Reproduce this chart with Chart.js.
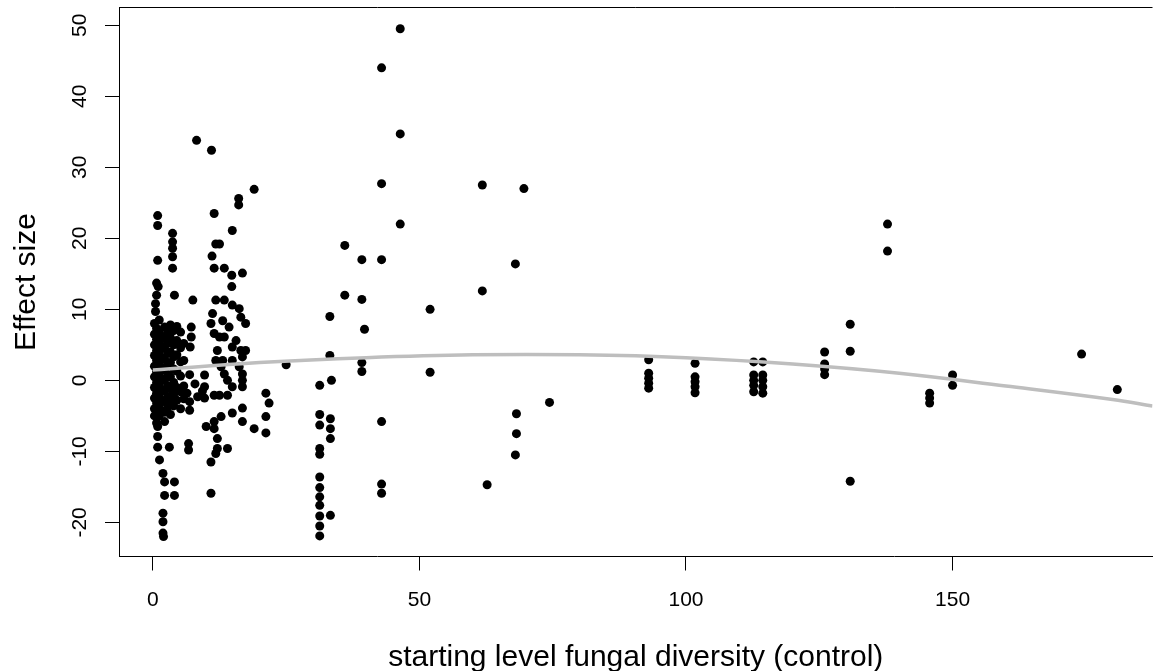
<!DOCTYPE html>
<html>
<head>
<meta charset="utf-8">
<title>Effect size vs starting level fungal diversity</title>
<script src="https://cdn.jsdelivr.net/npm/chart.js@4.4.1/dist/chart.umd.min.js"></script>
<style>
  html, body { margin: 0; padding: 0; background: #ffffff; overflow: hidden; }
  #wrap { width: 1157px; height: 671px; }
</style>
</head>
<body>
<div id="wrap"><canvas id="plot" width="1157" height="671"></canvas></div>
<script>
// --- data ---
// starting level fungal diversity (control)
const diversity = [
  0.9, 0.9, 0.9, 0.7, 1.0, 0.7, 0.5, 0.5,
  0.3, 0.3, 0.3, 0.3, 0.3, 0.3, 0.3, 0.3, 0.3, 0.3,
  0.7, 0.7, 0.7, 0.7, 0.7, 0.7, 0.7, 0.7, 0.7, 0.7,
  1.2, 1.2, 1.2, 1.2, 1.2, 1.2, 1.2, 1.2, 1.2, 1.2,
  1.7, 1.7, 1.7, 1.7, 1.7, 1.7, 1.7, 1.7,
  2.2, 2.2, 2.2, 2.2, 2.2, 2.2, 2.2, 2.2, 2.2, 2.2,
  2.8, 2.8, 2.8, 2.8, 2.8, 2.8, 2.8, 2.8,
  3.3, 3.3, 3.3, 3.3, 3.3, 3.3, 3.3, 3.3,
  3.9, 3.9, 3.9, 3.9, 3.9, 3.9, 3.9,
  4.5, 4.5, 4.5, 4.5, 4.5, 4.5,
  5.2, 5.2, 5.2, 5.2, 5.2, 5.2,
  5.8, 5.8, 5.8, 5.8,
  3.7, 3.7, 3.7, 3.7, 3.7, 4.05,
  0.9, 0.9, 0.9, 3.1, 1.25, 1.9, 2.2, 4.05, 2.2, 4.05, 1.9, 1.9, 1.9, 2.0,
  7.5, 7.2, 7.2, 7.0, 6.9, 6.7, 6.7,
  6.9, 7.9, 6.4, 8.4, 6.9, 9.3, 8.2,
  11.0, 19.0, 16.1, 16.1, 11.5, 14.9, 11.8, 12.5, 11.1, 11.5, 13.4, 14.8, 16.8, 14.8,
  11.8, 13.4, 14.9, 16.2, 11.2, 10.9, 13.1, 16.5, 17.4, 14.3, 11.5, 13.4, 12.5, 15.6,
  14.9, 16.5, 17.4, 12.1, 11.8, 13.1, 12.8, 14.9, 16.8, 16.2, 13.4, 16.8, 14.0, 16.8,
  14.9, 12.5, 14.0, 11.5, 16.8,
  9.7, 9.7, 9.7, 21.2, 21.8, 14.9, 16.8, 16.8, 19.0, 21.2, 21.2,
  10.0, 11.5, 12.8, 11.5, 12.1, 12.1, 14.0, 11.8, 10.9, 10.9,
  25.0,
  46.4, 42.9, 46.4, 42.9, 46.4, 36.0, 39.2, 42.9, 36.0, 39.2, 52.0, 33.2, 39.7,
  33.2, 39.2, 39.2, 52.0, 31.3, 33.5,
  31.3, 31.3, 31.3, 31.3, 31.3, 31.3, 31.3, 31.3, 31.3, 31.3, 31.3,
  33.3, 33.3, 33.3, 33.3,
  42.9, 42.9, 42.9,
  61.8, 69.6, 68.0, 61.8, 74.4, 68.2, 68.2, 68.0, 62.7,
  93, 93, 93, 93, 93,
  101.7, 101.7, 101.7, 101.7, 101.7,
  112.7, 112.7, 112.7, 112.7, 112.7,
  114.4, 114.4, 114.4, 114.4, 114.4,
  126, 126, 126, 126,
  130.8, 130.8, 130.8,
  137.8, 137.8,
  145.7, 145.7, 145.7,
  150, 150,
  174.2, 180.9
];

// Effect size
const effect = [
  23.2, 21.8, 16.9, 13.7, 13.2, 12.0, 10.8, 9.7,
  8.0, 6.5, 5.0, 3.5, 2.0, 0.5, -1.0, -2.5, -4.0, -5.0,
  7.3, 5.8, 4.2, 2.8, 1.2, -0.3, -1.8, -3.2, -4.6, -6.0,
  8.5, 7.0, 5.5, 4.0, 2.5, 1.0, -0.5, -2.0, -3.5, -5.0,
  6.2, 4.8, 3.2, 1.8, 0.2, -1.3, -2.8, -4.3,
  7.5, 6.0, 4.5, 3.0, 1.5, 0.0, -1.5, -3.0, -4.5, -5.8,
  6.8, 5.2, 3.8, 2.2, 0.8, -0.8, -2.3, -3.8,
  7.8, 6.0, 4.0, 2.5, 0.5, -1.2, -3.0, -4.8,
  7.0, 5.0, 3.3, 1.6, -0.3, -2.0, -3.6,
  7.6, 5.6, 3.6, 1.3, -1.0, -2.8,
  6.8, 4.6, 2.6, 0.6, -1.6, -4.0,
  5.2, 2.8, -0.8, -2.6,
  20.7, 19.5, 18.6, 17.4, 15.8, 12.0,
  -6.5, -7.9, -9.4, -9.4, -11.2, -13.1, -14.3, -14.3, -16.2, -16.2, -18.7, -19.9, -21.5, -22.0,
  11.3, 7.5, 6.1, 4.7, -4.2, -8.9, -9.8,
  0.8, -0.5, -1.8, -2.3, -3.0, -1.5, 33.8,
  32.4, 26.9, 25.6, 24.7, 23.5, 21.1, 19.2, 19.2, 17.5, 15.8, 15.8, 14.8, 15.1, 13.2,
  11.3, 11.3, 10.6, 10.1, 9.4, 8.0, 8.4, 8.9, 8.0, 7.5, 6.6, 6.1, 6.1, 5.6,
  4.7, 4.2, 4.2, 4.2, 2.8, 2.8, 1.9, 2.8, 3.3, 1.9, 0.9, 0.9, 0.0, 0.0,
  -0.9, -2.1, -2.1, -2.1, -0.9,
  0.75, -0.9, -2.5, -1.8, -3.2, -4.6, -3.9, -5.8, -6.8, -5.1, -7.4,
  -6.5, -5.8, -5.1, -6.8, -8.2, -9.6, -9.6, -10.3, -11.5, -15.9,
  2.2,
  49.5, 44.0, 34.7, 27.7, 22.0, 19.0, 17.0, 17.0, 12.0, 11.4, 10.0, 9.0, 7.2,
  3.5, 2.5, 1.25, 1.15, -0.7, 0.0,
  -4.8, -6.3, -9.6, -10.4, -13.6, -15.1, -16.4, -17.6, -19.1, -20.5, -21.9,
  -5.4, -6.8, -8.2, -19.0,
  -5.8, -14.6, -15.9,
  27.5, 27.0, 16.4, 12.6, -3.1, -4.7, -7.5, -10.5, -14.7,
  2.9, 1.0, 0.3, -0.4, -1.1,
  2.4, 0.5, -0.2, -0.9, -1.75,
  2.6, 0.75, 0.0, -0.7, -1.6,
  2.6, 0.75, 0.0, -0.9, -1.8,
  4.0, 2.3, 1.6, 0.8,
  7.9, 4.1, -14.2,
  22.0, 18.2,
  -1.8, -2.5, -3.2,
  0.75, -0.7,
  3.7, -1.3
];

// grey fitted curve, read at a few x positions
const fitX = [0, 20, 40, 60, 80, 100, 120, 140, 160, 180, 187.5];
const fitY = [1.45, 2.5, 3.2, 3.6, 3.6, 3.2, 2.3, 1.0, -0.8, -2.7, -3.6];

const xTicks = [0, 50, 100, 150];
const yTicks = [-20, -10, 0, 10, 20, 30, 40, 50];

// --- R style frame, rotated y labels and axis titles ---
const rFrame = {
  id: "rFrame",
  afterDraw(chart) {
    const { ctx, chartArea, scales } = chart;
    ctx.save();
    ctx.strokeStyle = "#000";
    ctx.lineWidth = 1;
    ctx.beginPath();
    ctx.moveTo(chartArea.left, chartArea.top);
    ctx.lineTo(chartArea.right, chartArea.top);
    ctx.stroke();

    ctx.fillStyle = "#000";
    ctx.font = "21px 'Liberation Sans', Arial, sans-serif";
    ctx.textAlign = "center";
    ctx.textBaseline = "alphabetic";
    scales.y.ticks.forEach(t => {
      const py = scales.y.getPixelForValue(t.value);
      ctx.save();
      ctx.translate(86, py);
      ctx.rotate(-Math.PI / 2);
      ctx.fillText(String(t.value), 0, 0);
      ctx.restore();
    });

    ctx.font = "30px 'Liberation Sans', Arial, sans-serif";
    ctx.save();
    ctx.translate(35, (chartArea.top + chartArea.bottom) / 2);
    ctx.rotate(-Math.PI / 2);
    ctx.fillText("Effect size", 0, 0);
    ctx.restore();

    ctx.fillText("starting level fungal diversity (control)",
      (chartArea.left + chartArea.right) / 2, 666);
    ctx.restore();
  }
};

const points = diversity.map((x, i) => ({ x: x, y: effect[i] }));
const fit = fitX.map((x, i) => ({ x: x, y: fitY[i] }));

new Chart(document.getElementById("plot"), {
  type: "scatter",
  data: {
    datasets: [
      {
        type: "line",
        data: fit,
        borderColor: "#bebebe",
        borderWidth: 3.5,
        pointRadius: 0,
        fill: false,
        tension: 0.4,
        order: 0
      },
      {
        data: points,
        backgroundColor: "#000",
        borderWidth: 0,
        pointRadius: 4.5,
        order: 1
      }
    ]
  },
  plugins: [rFrame],
  options: {
    responsive: false,
    animation: false,
    events: [],
    layout: { padding: { top: 7.5, right: 0, left: 0, bottom: 0 } },
    plugins: {
      legend: { display: false },
      tooltip: { enabled: false }
    },
    scales: {
      x: {
        type: "linear",
        min: -6.35,
        max: 187.5,
        afterBuildTicks: s => { s.ticks = xTicks.map(v => ({ value: v })); },
        afterFit: s => { s.height = 114.5; },
        border: { display: true, color: "#000", width: 1 },
        grid: { display: true, drawOnChartArea: false, drawTicks: true, tickLength: 14, color: "#000", lineWidth: 1 },
        ticks: {
          color: "#000",
          padding: 17,
          maxRotation: 0,
          font: { family: "'Liberation Sans', Arial, sans-serif", size: 21 }
        }
      },
      y: {
        type: "linear",
        min: -24.8,
        max: 52.5,
        afterBuildTicks: s => { s.ticks = yTicks.map(v => ({ value: v })); },
        afterFit: s => { s.width = 119; },
        border: { display: true, color: "#000", width: 1 },
        grid: { display: true, drawOnChartArea: false, drawTicks: true, tickLength: 14, color: "#000", lineWidth: 1 },
        ticks: { display: false }
      }
    }
  }
});
</script>
</body>
</html>
